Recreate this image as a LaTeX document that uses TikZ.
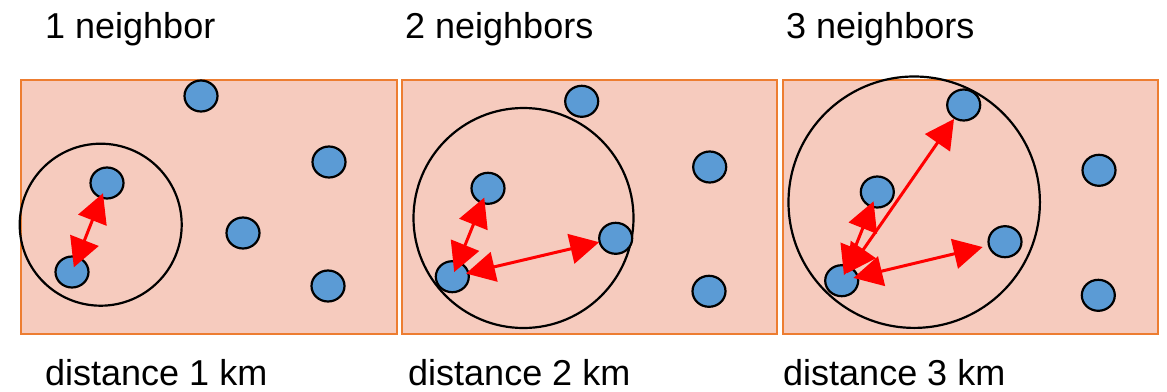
\documentclass[tikz,border=0pt]{standalone}
\usepackage{fontspec}
\setmainfont{Liberation Sans}
\usetikzlibrary{arrows.meta,shapes.geometric}
\definecolor{panelfill}{HTML}{F6CBBE}
\definecolor{panelline}{HTML}{ED7D31}
\definecolor{dotblue}{HTML}{5B9BD5}
\definecolor{arrred}{HTML}{FF0000}
\tikzset{
  panel/.style={fill=panelfill,draw=panelline,line width=2.2pt},
  dot/.style={ellipse,fill=dotblue,draw=black,line width=2.2pt,minimum width=33pt,minimum height=31pt,inner sep=0pt},
  rangecircle/.style={draw=black,line width=2.2pt},
  link/.style={draw=arrred,line width=3pt,{Triangle[length=29pt,width=30pt]}-{Triangle[length=29pt,width=30pt]}},
  lbl/.style={anchor=base west,inner sep=0pt,font=\fontsize{36}{40}\selectfont}
}
\begin{document}
\begin{tikzpicture}[x=1pt,y=-1pt]
\useasboundingbox (0,0) rectangle (1167,391);
% labels
\node[lbl] (t1) at (45,38) {1 neighbor};
\node[lbl] (t2) at (405,38) {2 neighbors};
\node[lbl] (t3) at (786,38) {3 neighbors};
\node[lbl] (b1) at (45,385) {distance 1 km};
\node[lbl] (b2) at (408,385) {distance 2 km};
\node[lbl] (b3) at (783,385) {distance 3 km};
% panels
\draw[panel] (21,80) rectangle (397,334);
\draw[panel] (402,80) rectangle (777,334);
\draw[panel] (783,80) rectangle (1158,334);
% panel 1
\draw[rangecircle] (100.7,224.7) circle (81);
\node[dot] (p1a) at (201,96) {};
\node[dot] (p1b) at (329,162) {};
\node[dot] (p1c) at (107,183) {};
\node[dot] (p1d) at (72,272) {};
\node[dot] (p1e) at (243,233) {};
\node[dot] (p1f) at (328,286) {};
\draw[link,shorten <=5pt,shorten >=11pt] (p1d.center) -- (p1c.center);
% panel 2
\draw[rangecircle] (523.5,218) circle (110);
\node[dot] (p2a) at (581.7,101.3) {};
\node[dot] (p2b) at (709.7,167) {};
\node[dot] (p2c) at (488,188.3) {};
\node[dot] (p2d) at (615.7,238.3) {};
\node[dot] (p2e) at (452.3,276.7) {};
\node[dot] (p2f) at (709,291.3) {};
\draw[link,shorten <=5pt,shorten >=10pt] (p2e.center) -- (p2c.center);
\draw[link,shorten <=14pt,shorten >=17pt] (p2e.center) -- (p2d.center);
% panel 3
\draw[rangecircle] (914.2,202.2) circle (125.7);
\node[dot] (p3a) at (963.7,105) {};
\node[dot] (p3b) at (1099,170.3) {};
\node[dot] (p3c) at (877.3,192) {};
\node[dot] (p3d) at (1005,241.7) {};
\node[dot] (p3e) at (841.7,280.7) {};
\node[dot] (p3f) at (1098.3,295.3) {};
\draw[link,shorten <=6pt,shorten >=10pt] (p3e.center) -- (p3c.center);
\draw[link,shorten <=9pt,shorten >=17pt] (p3e.center) -- (p3a.center);
\draw[link,shorten <=12pt,shorten >=23pt] (p3e.center) -- (p3d.center);
\end{tikzpicture}
\end{document}
